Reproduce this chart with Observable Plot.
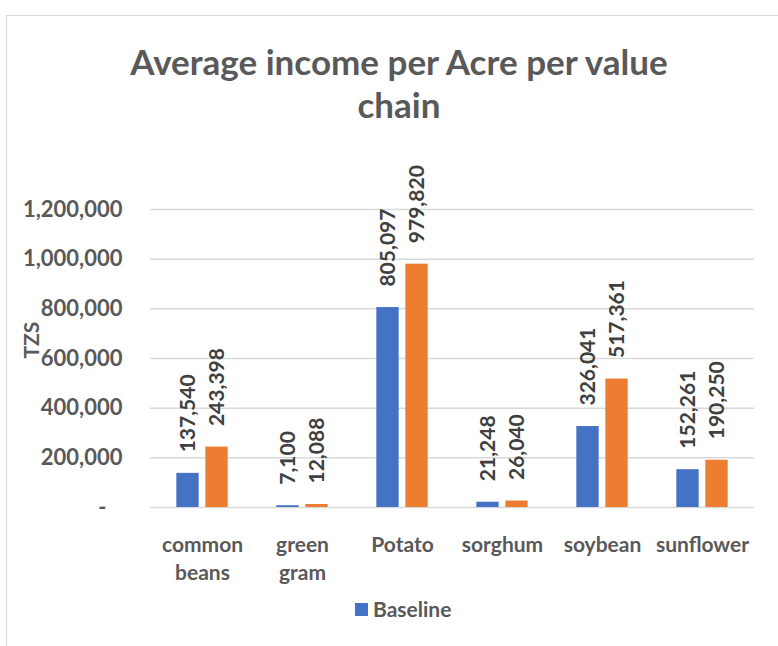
<!DOCTYPE html>
<html>
<head>
<meta charset="utf-8">
<script src="https://cdn.jsdelivr.net/npm/d3@7"></script>
<script src="https://cdn.jsdelivr.net/npm/@observablehq/plot@0.6"></script>
<style>
  html, body { margin: 0; padding: 0; background: #fff; }
  #wrap { position: relative; width: 778px; height: 646px; overflow: hidden; font-family: Lato, "Open Sans", sans-serif; font-weight: bold; color: #595959; }
  #frame { position: absolute; left: 6px; top: 15px; width: 800px; height: 700px; border-left: 1.5px solid #d9d9d9; border-top: 1.5px solid #d9d9d9; }
  #title { position: absolute; left: 20px; width: 758px; top: 40px; text-align: center; font-size: 35px; line-height: 43px; }
  #chart { position: absolute; left: 0; top: 0; }
  #legend { position: absolute; left: 355px; top: 596px; font-size: 21px; line-height: 26px; display: flex; align-items: center; }
  #legend .sw { width: 13px; height: 13px; background: #4472C4; margin-right: 5px; }
</style>
</head>
<body>
<div id="wrap">
  <div id="frame"></div>
  <div id="title">Average income per Acre per value<br>chain</div>
  <div id="chart"></div>
  <div id="legend"><span class="sw"></span><span id="legtext"></span></div>
</div>
<script>
const categories = ["common beans", "green gram", "Potato", "sorghum", "soybean", "sunflower"];
const baselineValues = [137540, 7100, 805097, 21248, 326041, 152261];
const secondValues = [243398, 12088, 979820, 26040, 517361, 190250];
const seriesNames = ["Baseline", "Series 2"];
const seriesColors = ["#4472C4", "#ED7D31"];
const yTicks = [0, 200000, 400000, 600000, 800000, 1000000, 1200000];
const yLabel = "TZS";

document.getElementById("legtext").textContent = seriesNames[0];

const rowsA = categories.map((c, i) => ({cat: c, value: baselineValues[i], series: seriesNames[0]}));
const rowsB = categories.map((c, i) => ({cat: c, value: secondValues[i], series: seriesNames[1]}));

const W = 778, H = 646, mL = 150, mR = 24, mT = 209, mB = 139;
const bw = (W - mL - mR) / categories.length;
const barW = 23, gap = 3; // half gap
const fmt = d3.format(",");

const chart = Plot.plot({
  width: W, height: H,
  marginTop: mT, marginBottom: mB, marginLeft: mL, marginRight: mR,
  style: {fontFamily: "Lato, 'Open Sans', sans-serif", fontSize: "21px", fontWeight: "bold", color: "#595959", background: "transparent", overflow: "visible"},
  x: {domain: categories, padding: 0, axis: null},
  y: {domain: [0, 1200000], axis: null},
  marks: [
    Plot.gridY(yTicks, {stroke: "#d9d9d9", strokeOpacity: 1, strokeWidth: 1.5}),
    Plot.axisY(yTicks, {tickSize: 0, tickPadding: 28, fontSize: 22, fontWeight: "bold", fill: "#595959",
      tickFormat: d => d === 0 ? "-\u00a0\u00a0\u00a0" : fmt(d), label: null}),
    Plot.axisX({tickSize: 0, tickPadding: 25, fontSize: 21, fontWeight: "bold", fill: "#595959", lineHeight: 1.33,
      tickFormat: d => d.replace(" ", "\n"), label: null}),
    Plot.barY(rowsA, {x: "cat", y: "value", fill: seriesColors[0],
      insetLeft: bw / 2 - gap - barW, insetRight: bw / 2 + gap}),
    Plot.barY(rowsB, {x: "cat", y: "value", fill: seriesColors[1],
      insetLeft: bw / 2 + gap, insetRight: bw / 2 - gap - barW}),
    Plot.text(rowsA, {x: "cat", y: "value", text: d => fmt(d.value), rotate: -90, textAnchor: "start",
      dx: -(gap + barW / 2), dy: -21, fontSize: 21, fontWeight: "bold", fill: "#404040"}),
    Plot.text(rowsB, {x: "cat", y: "value", text: d => fmt(d.value), rotate: -90, textAnchor: "start",
      dx: (gap + barW / 2), dy: -21, fontSize: 21, fontWeight: "bold", fill: "#404040"}),
    Plot.text([yLabel], {frameAnchor: "left", dx: -118, rotate: -90, fontSize: 21, fontWeight: "bold", fill: "#595959"})
  ]
});
document.getElementById("chart").appendChild(chart);
</script>
</body>
</html>
